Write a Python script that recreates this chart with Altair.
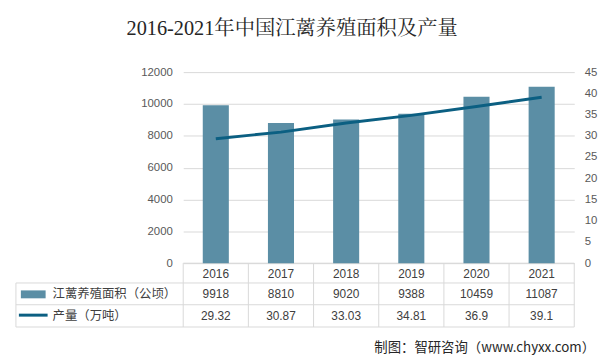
import altair as alt
import pandas as pd

years = ["2016", "2017", "2018", "2019", "2020", "2021"]
area = [9918, 8810, 9020, 9388, 10459, 11087]
output = [29.32, 30.87, 33.03, 34.81, 36.9, 39.1]
output_labels = ["29.32", "30.87", "33.03", "34.81", "36.9", "39.1"]
area_name = "江蓠养殖面积（公顷）"
output_name = "产量（万吨）"
title_text = "2016-2021年中国江蓠养殖面积及产量"
source_text = "制图：智研咨询（www.chyxx.com）"
left_ticks = [0, 2000, 4000, 6000, 8000, 10000, 12000]
right_ticks = [0, 5, 10, 15, 20, 25, 30, 35, 40, 45]

df = pd.DataFrame({
    "year": years,
    "area": area,
    "output": output,
    "area_label": [str(v) for v in area],
    "output_label": output_labels,
})

W, H = 395, 193
BAR_COLOR = "#5b8ea5"
LINE_COLOR = "#0b5f82"
GRID = "#d9d9d9"
NUM_FONT = "Liberation Sans, Noto Sans CJK SC"
CJK_FONT = "Noto Sans CJK SC"

xenc = alt.X("year:N", sort=years, axis=None,
             scale=alt.Scale(paddingInner=0.6, paddingOuter=0.3))

base = alt.Chart(df)

bars = base.mark_bar(color=BAR_COLOR).encode(
    x=xenc,
    y=alt.Y("area:Q", scale=alt.Scale(domain=[0, 12000], nice=False),
            axis=alt.Axis(values=left_ticks, format="d", title=None, domain=False, ticks=False,
                          grid=True, gridColor=GRID, labelPadding=11,
                          labelFont=NUM_FONT, labelFontSize=11.5, labelColor="#595959")),
)

line = base.mark_line(color=LINE_COLOR, strokeWidth=3).encode(
    x=xenc,
    y=alt.Y("output:Q", scale=alt.Scale(domain=[0, 45], nice=False),
            axis=alt.Axis(orient="right", values=right_ticks, format="d", title=None,
                          domain=False, ticks=False, grid=False, labelPadding=10,
                          labelFont=NUM_FONT, labelFontSize=11.5, labelColor="#595959")),
)

def row_text(field, ypos):
    return base.mark_text(font=NUM_FONT, fontSize=12, color="#404040", baseline="middle").encode(
        x=xenc, y=alt.value(ypos), text=f"{field}:N")

t_year = row_text("year", 203.5)
t_area = row_text("area_label", 224.5)
t_out = row_text("output_label", 246)

deco = alt.Chart(pd.DataFrame({"d": [0]}))

step = W / 6
rules = []
# horizontal table lines
for y0, x0 in [(213, -169), (235, -169), (257.5, -169), (193, 0)]:
    rules.append(deco.mark_rule(color=GRID, strokeWidth=1).encode(
        x=alt.value(x0), x2=alt.value(W), y=alt.value(y0)))
# vertical table lines
for k in range(7):
    rules.append(deco.mark_rule(color=GRID, strokeWidth=1).encode(
        x=alt.value(k * step), y=alt.value(193), y2=alt.value(257.5)))
rules.append(deco.mark_rule(color=GRID, strokeWidth=1).encode(
    x=alt.value(-169), y=alt.value(213), y2=alt.value(257.5)))

legend_rect = deco.mark_rect(color=BAR_COLOR).encode(
    x=alt.value(-164), x2=alt.value(-139), y=alt.value(220.5), y2=alt.value(228.5))
legend_line = deco.mark_rule(color=LINE_COLOR, strokeWidth=3).encode(
    x=alt.value(-166), x2=alt.value(-137), y=alt.value(245.5))
legend_t1 = deco.mark_text(font=CJK_FONT, fontSize=12.5, color="#404040", align="left",
                           baseline="middle").encode(
    x=alt.value(-132), y=alt.value(224.5), text=alt.value(area_name))
legend_t2 = deco.mark_text(font=CJK_FONT, fontSize=12.5, color="#404040", align="left",
                           baseline="middle").encode(
    x=alt.value(-132), y=alt.value(246), text=alt.value(output_name))

title = deco.mark_text(font="Liberation Serif, Noto Serif CJK SC, Noto Sans CJK SC",
                       fontSize=20.5, color="#262626", align="center",
                       baseline="middle").encode(
    x=alt.value(110), y=alt.value(-43), text=alt.value(title_text))
source = deco.mark_text(font=CJK_FONT, fontSize=13.5, color="#262626", align="right",
                        baseline="middle").encode(
    x=alt.value(416), y=alt.value(279), text=alt.value(source_text))

chart = alt.layer(
    *rules, bars, line, t_year, t_area, t_out,
    legend_rect, legend_line, legend_t1, legend_t2, title, source
).resolve_scale(y="independent").properties(
    width=W, height=H,
    padding={"left": 177, "top": 63, "right": 24, "bottom": 92},
    autosize=alt.AutoSizeParams(type="none"),
    background="white",
).configure_view(stroke=None)

chart.save("out.html", embed_options={"renderer": "svg", "actions": False})
